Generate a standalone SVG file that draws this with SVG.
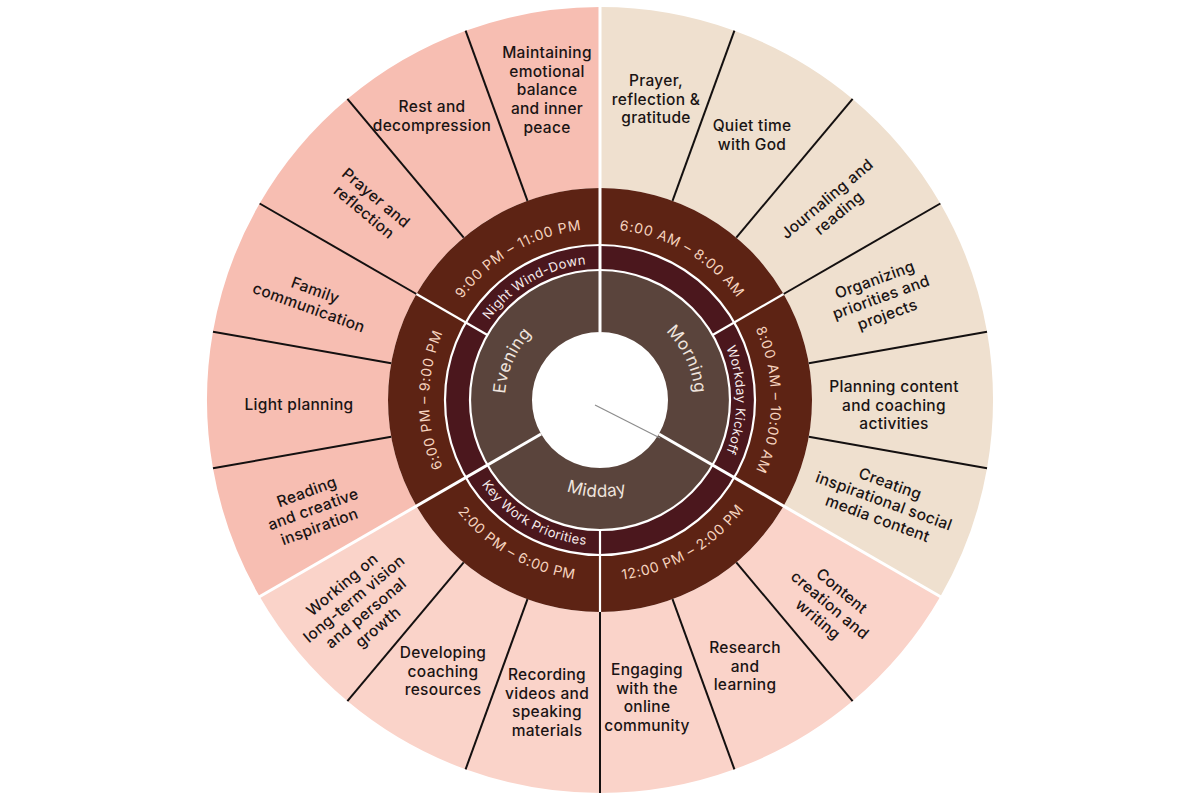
<svg xmlns="http://www.w3.org/2000/svg" width="1200" height="800" viewBox="0 0 1200 800">
<style>
.om{fill:#efe0cf}
.od{fill:#fad3c9}
.oe{fill:#f7beb2}
.time{fill:#5d2314}
.band{fill:#4b171d}
.core{fill:#5a443c}
.lbl{font-family:Inter,'Noto Sans',sans-serif;font-size:15.5px;font-weight:500;letter-spacing:0.3px;fill:#1a1414;text-anchor:middle}
.tl{font-family:Inter,'Noto Sans',sans-serif;font-size:14px;fill:#f6d3bf;letter-spacing:0.7px;text-anchor:middle}
.bl{font-family:Inter,'Noto Sans',sans-serif;font-size:13px;fill:#f7ecec;letter-spacing:0.4px;text-anchor:middle}
.cl{font-family:Inter,'Noto Sans',sans-serif;font-size:17px;fill:#efe4de;letter-spacing:0.5px;text-anchor:middle}
.db{stroke:#141010;stroke-width:2;fill:none}
.dw{stroke:#ffffff;stroke-width:3;fill:none}
.dw2{stroke:#ffffff;stroke-width:2.2;fill:none}
</style>
<defs>
<path id="tp1" d="M600 229 A171 171 0 0 1 748.09 314.5"/>
<path id="tp2" d="M748.09 314.5 A171 171 0 0 1 748.09 485.5"/>
<path id="tp3" d="M600 581 A181 181 0 0 0 756.75 490.5"/>
<path id="tp4" d="M443.25 490.5 A181 181 0 0 0 600 581"/>
<path id="tp5" d="M451.91 485.5 A171 171 0 0 1 451.91 314.5"/>
<path id="tp6" d="M451.91 314.5 A171 171 0 0 1 600 229"/>
<path id="bp2" d="M718.21 331.75 A136.5 136.5 0 0 1 718.21 468.25"/>
<path id="bp4" d="M473.99 472.75 A145.5 145.5 0 0 0 600 545.5"/>
<path id="bp6" d="M481.79 331.75 A136.5 136.5 0 0 1 600 263.5"/>
<path id="cp1" d="M608.28 305.36 A95 95 0 0 1 677.82 454.49"/>
<path id="cp2" d="M514.35 445.54 A97 97 0 0 0 682.26 451.4"/>
<path id="cp3" d="M523.14 455.84 A95 95 0 0 1 590.07 305.52"/>
</defs>
<rect width="1200" height="800" fill="#ffffff"/>

<g id="activities">
<g id="a01"><path class="om" d="M600 7 A393 393 0 0 1 734.41 30.7 L672.51 200.79 A212 212 0 0 0 600 188 Z"/>
<text class="lbl" x="656" y="86">Prayer,<tspan x="656" dy="18.5">reflection &amp;</tspan><tspan x="656" dy="18.5">gratitude</tspan></text></g>
<g id="a02"><path class="om" d="M734.41 30.7 A393 393 0 0 1 852.62 98.95 L736.27 237.6 A212 212 0 0 0 672.51 200.79 Z"/>
<text class="lbl" x="752" y="131">Quiet time<tspan x="752" dy="18.5">with God</tspan></text></g>
<g id="a03"><path class="om" d="M852.62 98.95 A393 393 0 0 1 940.35 203.5 L783.6 294 A212 212 0 0 0 736.27 237.6 Z"/>
<text class="lbl" transform="translate(833 206) rotate(-40)" x="0" y="-4">Journaling and<tspan x="0" dy="18.5">reading</tspan></text></g>
<g id="a04"><path class="om" d="M940.35 203.5 A393 393 0 0 1 987.03 331.76 L808.78 363.19 A212 212 0 0 0 783.6 294 Z"/>
<text class="lbl" transform="translate(881 297) rotate(-20)" x="0" y="-13">Organizing<tspan x="0" dy="18.5">priorities and</tspan><tspan x="0" dy="18.5">projects</tspan></text></g>
<g id="a05"><path class="om" d="M987.03 331.76 A393 393 0 0 1 987.03 468.24 L808.78 436.81 A212 212 0 0 0 808.78 363.19 Z"/>
<text class="lbl" x="894" y="392">Planning content<tspan x="894" dy="18.5">and coaching</tspan><tspan x="894" dy="18.5">activities</tspan></text></g>
<g id="a06"><path class="om" d="M987.03 468.24 A393 393 0 0 1 940.35 596.5 L783.6 506 A212 212 0 0 0 808.78 436.81 Z"/>
<text class="lbl" transform="translate(884 501) rotate(20)" x="0" y="-13">Creating<tspan x="0" dy="18.5">inspirational social</tspan><tspan x="0" dy="18.5">media content</tspan></text></g>
<g id="a07"><path class="od" d="M940.35 596.5 A393 393 0 0 1 852.62 701.05 L736.27 562.4 A212 212 0 0 0 783.6 506 Z"/>
<text class="lbl" transform="translate(830 605) rotate(40)" x="0" y="-13">Content<tspan x="0" dy="18.5">creation and</tspan><tspan x="0" dy="18.5">writing</tspan></text></g>
<g id="a08"><path class="od" d="M852.62 701.05 A393 393 0 0 1 734.41 769.3 L672.51 599.21 A212 212 0 0 0 736.27 562.4 Z"/>
<text class="lbl" x="745" y="653">Research<tspan x="745" dy="18.5">and</tspan><tspan x="745" dy="18.5">learning</tspan></text></g>
<g id="a09"><path class="od" d="M734.41 769.3 A393 393 0 0 1 600 793 L600 612 A212 212 0 0 0 672.51 599.21 Z"/>
<text class="lbl" x="647" y="675">Engaging<tspan x="647" dy="18.5">with the</tspan><tspan x="647" dy="18.5">online</tspan><tspan x="647" dy="18.5">community</tspan></text></g>
<g id="a10"><path class="od" d="M600 793 A393 393 0 0 1 465.59 769.3 L527.49 599.21 A212 212 0 0 0 600 612 Z"/>
<text class="lbl" x="547" y="680">Recording<tspan x="547" dy="18.5">videos and</tspan><tspan x="547" dy="18.5">speaking</tspan><tspan x="547" dy="18.5">materials</tspan></text></g>
<g id="a11"><path class="od" d="M465.59 769.3 A393 393 0 0 1 347.38 701.05 L463.73 562.4 A212 212 0 0 0 527.49 599.21 Z"/>
<text class="lbl" x="443" y="658">Developing<tspan x="443" dy="18.5">coaching</tspan><tspan x="443" dy="18.5">resources</tspan></text></g>
<g id="a12"><path class="od" d="M347.38 701.05 A393 393 0 0 1 259.65 596.5 L416.4 506 A212 212 0 0 0 463.73 562.4 Z"/>
<text class="lbl" transform="translate(360 606) rotate(-40)" x="0" y="-22.5">Working on<tspan x="0" dy="18.5">long-term vision</tspan><tspan x="0" dy="18.5">and personal</tspan><tspan x="0" dy="18.5">growth</tspan></text></g>
<g id="a13"><path class="oe" d="M259.65 596.5 A393 393 0 0 1 212.97 468.24 L391.22 436.81 A212 212 0 0 0 416.4 506 Z"/>
<text class="lbl" transform="translate(313 509) rotate(-20)" x="0" y="-13">Reading<tspan x="0" dy="18.5">and creative</tspan><tspan x="0" dy="18.5">inspiration</tspan></text></g>
<g id="a14"><path class="oe" d="M212.97 468.24 A393 393 0 0 1 212.97 331.76 L391.22 363.19 A212 212 0 0 0 391.22 436.81 Z"/>
<text class="lbl" x="299" y="410">Light planning</text></g>
<g id="a15"><path class="oe" d="M212.97 331.76 A393 393 0 0 1 259.65 203.5 L416.4 294 A212 212 0 0 0 391.22 363.19 Z"/>
<text class="lbl" transform="translate(312 299) rotate(20)" x="0" y="-4">Family<tspan x="0" dy="18.5">communication</tspan></text></g>
<g id="a16"><path class="oe" d="M259.65 203.5 A393 393 0 0 1 347.38 98.95 L463.73 237.6 A212 212 0 0 0 416.4 294 Z"/>
<text class="lbl" transform="translate(370 205) rotate(40)" x="0" y="-4">Prayer and<tspan x="0" dy="18.5">reflection</tspan></text></g>
<g id="a17"><path class="oe" d="M347.38 98.95 A393 393 0 0 1 465.59 30.7 L527.49 200.79 A212 212 0 0 0 463.73 237.6 Z"/>
<text class="lbl" x="432" y="112">Rest and<tspan x="432" dy="18.5">decompression</tspan></text></g>
<g id="a18"><path class="oe" d="M465.59 30.7 A393 393 0 0 1 600 7 L600 188 A212 212 0 0 0 527.49 200.79 Z"/>
<text class="lbl" x="547" y="58">Maintaining<tspan x="547" dy="18.7">emotional</tspan><tspan x="547" dy="18.7">balance</tspan><tspan x="547" dy="18.7">and inner</tspan><tspan x="547" dy="18.7">peace</tspan></text></g>
</g>

<g id="times">
<g id="t1"><path class="time" d="M600 188 A212 212 0 0 1 783.6 294 L734.23 322.5 A155 155 0 0 0 600 245 Z"/>
<text class="tl"><textPath href="#tp1" startOffset="50%">6:00 AM – 8:00 AM</textPath></text></g>
<g id="t2"><path class="time" d="M783.6 294 A212 212 0 0 1 783.6 506 L734.23 477.5 A155 155 0 0 0 734.23 322.5 Z"/>
<text class="tl"><textPath href="#tp2" startOffset="50%">8:00 AM – 10:00 AM</textPath></text></g>
<g id="t3"><path class="time" d="M783.6 506 A212 212 0 0 1 600 612 L600 555 A155 155 0 0 0 734.23 477.5 Z"/>
<text class="tl"><textPath href="#tp3" startOffset="50%">12:00 PM – 2:00 PM</textPath></text></g>
<g id="t4"><path class="time" d="M600 612 A212 212 0 0 1 416.4 506 L465.77 477.5 A155 155 0 0 0 600 555 Z"/>
<text class="tl"><textPath href="#tp4" startOffset="50%">2:00 PM – 6:00 PM</textPath></text></g>
<g id="t5"><path class="time" d="M416.4 506 A212 212 0 0 1 416.4 294 L465.77 322.5 A155 155 0 0 0 465.77 477.5 Z"/>
<text class="tl"><textPath href="#tp5" startOffset="50%">6:00 PM – 9:00 PM</textPath></text></g>
<g id="t6"><path class="time" d="M416.4 294 A212 212 0 0 1 600 188 L600 245 A155 155 0 0 0 465.77 322.5 Z"/>
<text class="tl"><textPath href="#tp6" startOffset="50%">9:00 PM – 11:00 PM</textPath></text></g>
</g>

<g id="blocks">
<g id="b1"><path class="band" d="M600 245 A155 155 0 0 1 734.23 322.5 L712.58 335 A130 130 0 0 0 600 270 Z"/></g>
<g id="b2"><path class="band" d="M734.23 322.5 A155 155 0 0 1 734.23 477.5 L712.58 465 A130 130 0 0 0 712.58 335 Z"/>
<text class="bl"><textPath href="#bp2" startOffset="50%">Workday Kickoff</textPath></text></g>
<g id="b3"><path class="band" d="M734.23 477.5 A155 155 0 0 1 600 555 L600 530 A130 130 0 0 0 712.58 465 Z"/></g>
<g id="b4"><path class="band" d="M600 555 A155 155 0 0 1 465.77 477.5 L487.42 465 A130 130 0 0 0 600 530 Z"/>
<text class="bl"><textPath href="#bp4" startOffset="50%">Key Work Priorities</textPath></text></g>
<g id="b5"><path class="band" d="M465.77 477.5 A155 155 0 0 1 465.77 322.5 L487.42 335 A130 130 0 0 0 487.42 465 Z"/></g>
<g id="b6"><path class="band" d="M465.77 322.5 A155 155 0 0 1 600 245 L600 270 A130 130 0 0 0 487.42 335 Z"/>
<text class="bl"><textPath href="#bp6" startOffset="50%">Night Wind-Down</textPath></text></g>
</g>

<g id="periods">
<g id="morning"><path class="core" d="M600 270 A130 130 0 0 1 712.58 465 L658.89 434 A68 68 0 0 0 600 332 Z"/>
<text class="cl"><textPath href="#cp1" startOffset="50%">Morning</textPath></text></g>
<g id="midday"><path class="core" d="M712.58 465 A130 130 0 0 1 487.42 465 L541.11 434 A68 68 0 0 0 658.89 434 Z"/>
<text class="cl"><textPath href="#cp2" startOffset="50%">Midday</textPath></text></g>
<g id="evening"><path class="core" d="M487.42 465 A130 130 0 0 1 600 270 L600 332 A68 68 0 0 0 541.11 434 Z"/>
<text class="cl"><textPath href="#cp3" startOffset="50%">Evening</textPath></text></g>
</g>

<g id="connectors">
<circle class="dw2" cx="600" cy="400" r="155"/>
<circle class="dw2" cx="600" cy="400" r="130"/>
<line class="db" x1="672.51" y1="200.79" x2="734.41" y2="30.7"/>
<line class="db" x1="736.27" y1="237.6" x2="852.62" y2="98.95"/>
<line class="db" x1="783.6" y1="294" x2="940.35" y2="203.5"/>
<line class="db" x1="808.78" y1="363.19" x2="987.03" y2="331.76"/>
<line class="db" x1="808.78" y1="436.81" x2="987.03" y2="468.24"/>
<line class="db" x1="736.27" y1="562.4" x2="852.62" y2="701.05"/>
<line class="db" x1="672.51" y1="599.21" x2="734.41" y2="769.3"/>
<line class="db" x1="600" y1="612" x2="600" y2="793"/>
<line class="db" x1="527.49" y1="599.21" x2="465.59" y2="769.3"/>
<line class="db" x1="463.73" y1="562.4" x2="347.38" y2="701.05"/>
<line class="db" x1="391.22" y1="436.81" x2="212.97" y2="468.24"/>
<line class="db" x1="391.22" y1="363.19" x2="212.97" y2="331.76"/>
<line class="db" x1="416.4" y1="294" x2="259.65" y2="203.5"/>
<line class="db" x1="463.73" y1="237.6" x2="347.38" y2="98.95"/>
<line class="db" x1="527.49" y1="200.79" x2="465.59" y2="30.7"/>
<line class="dw" x1="600" y1="332" x2="600" y2="6"/>
<line class="dw" x1="658.89" y1="434" x2="941" y2="597"/>
<line class="dw" x1="541.11" y1="434" x2="259" y2="597"/>
<line class="dw2" x1="712.58" y1="335" x2="783.6" y2="294"/>
<line class="dw2" x1="600" y1="530" x2="600" y2="612"/>
<line class="dw2" x1="487.42" y1="335" x2="416.4" y2="294"/>
<line x1="595" y1="405" x2="660" y2="438" stroke="#8c8c8c" stroke-width="1.2"/>
</g>
</svg>
